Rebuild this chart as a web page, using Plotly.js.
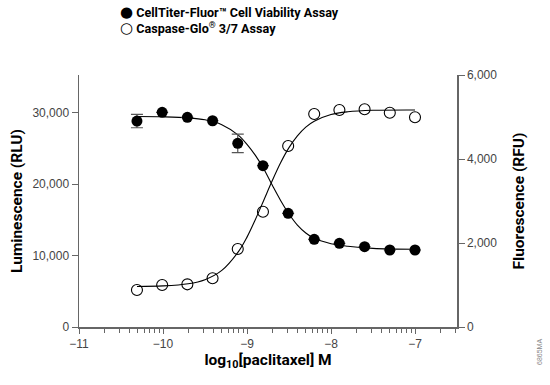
<!DOCTYPE html>
<html>
<head>
<meta charset="utf-8">
<script src="https://cdn.plot.ly/plotly-3.0.1.min.js"></script>
<style>html,body{margin:0;padding:0;background:#fff;}#chart{width:550px;height:385px;}</style>
</head>
<body>
<div id="chart"></div>
<script>
// ---- data ----
const logConc = [-10.31, -10.01, -9.71, -9.41, -9.11, -8.81, -8.51, -8.2, -7.9, -7.6, -7.3, -7.0];
const viabilityRLU = [28800, 30030, 29330, 28850, 25690, 22560, 15900, 12270, 11700, 11230, 10770, 10770];
const viabilityErr = [930, null, null, null, 1290, null, null, null, null, null, null, null];
const caspaseRFU = [880, 1000, 1016, 1160, 1857, 2745, 4310, 5071, 5167, 5183, 5100, 4993];

// fitted curves
const fitX = [-10.31, -10.0, -9.7, -9.5, -9.3, -9.1, -9.0, -8.9, -8.8, -8.7, -8.6, -8.5, -8.4, -8.3, -8.2, -8.0, -7.8, -7.5, -7.0];
const fitViability = [29440, 29400, 29260, 28980, 28300, 26800, 25550, 24000, 22100, 19850, 17700, 15800, 14250, 13150, 12400, 11650, 11300, 11000, 10870];
const fitCaspase = [965, 978, 1030, 1127, 1347, 1800, 2140, 2560, 3020, 3480, 3910, 4270, 4550, 4760, 4900, 5060, 5125, 5160, 5168];

const xTickVals = [-11, -10, -9, -8, -7];
const yLeftTicks = [0, 10000, 20000, 30000];
const yRightTicks = [0, 2000, 4000, 6000];
const seriesNames = ['CellTiter-Fluor™ Cell Viability Assay', 'Caspase-Glo<sup>®</sup> 3/7 Assay'];

// minor (log) ticks inside each decade
const minorTicks = [];
for (const d of [-11, -10, -9, -8, -7]) {
  for (let k = 2; k <= 9; k++) {
    const v = d + Math.log10(k);
    if (v < -6.5) minorTicks.push(v);
  }
}

const tickFont = {family: 'Liberation Sans, Arial, sans-serif', size: 12, color: '#444'};
const boldFam = 'Roboto, "Noto Sans", sans-serif';
const titleFont = {family: boldFam, size: 15.5, color: '#000', weight: 'bold'};
const legendFont = {family: boldFam, size: 12.6, color: '#000', weight: 'bold'};
const axisCol = '#666';

const traces = [
  {x: fitX, y: fitViability, mode: 'lines', line: {color: '#000', width: 1.1, shape: 'spline', smoothing: 1}, showlegend: false, hoverinfo: 'skip', xaxis: 'x', yaxis: 'y'},
  {x: fitX, y: fitCaspase, mode: 'lines', line: {color: '#000', width: 1.1, shape: 'spline', smoothing: 1}, showlegend: false, hoverinfo: 'skip', xaxis: 'x', yaxis: 'y2'},
  {x: logConc, y: viabilityRLU, name: seriesNames[0], mode: 'markers',
   marker: {symbol: 'circle', size: 11, color: '#000'},
   error_y: {type: 'data', array: viabilityErr, visible: true, color: '#555', thickness: 1.2, width: 6},
   showlegend: false, xaxis: 'x', yaxis: 'y'},
  {x: logConc, y: caspaseRFU, name: seriesNames[1], mode: 'markers',
   marker: {symbol: 'circle-open', size: 11, color: '#000', line: {width: 1.1, color: '#000'}},
   showlegend: false, xaxis: 'x', yaxis: 'y2'}
];

const glyph = s => '<span style="font-family:DejaVu Sans;font-size:15px">' + s + '</span>';
const legendText = glyph('●') + ' ' + seriesNames[0] + '<br>' + glyph('○') + ' ' + seriesNames[1];

const layout = {
  width: 550, height: 385,
  margin: {l: 79, r: 93, t: 75, b: 58, pad: 0},
  paper_bgcolor: '#fff', plot_bgcolor: '#fff',
  showlegend: false,
  xaxis: {
    range: [-11, -6.5], tickmode: 'array', tickvals: xTickVals,
    ticks: 'outside', ticklen: 5, tickwidth: 1, tickcolor: axisCol,
    showline: true, linecolor: axisCol, linewidth: 1.5,
    showgrid: false, zeroline: false, tickfont: tickFont,
    minor: {tickmode: 'array', tickvals: minorTicks, ticks: 'outside', ticklen: 4, tickwidth: 1, tickcolor: axisCol, showgrid: false},
    title: {text: 'log<sub>10</sub>[paclitaxel] M', font: titleFont, standoff: 4}
  },
  yaxis: {
    range: [0, 35250], tickmode: 'array', tickvals: yLeftTicks, tickformat: ',d',
    ticks: 'outside', ticklen: 6, tickwidth: 1, tickcolor: axisCol,
    showline: true, linecolor: axisCol, linewidth: 1.5,
    showgrid: false, zeroline: false, tickfont: tickFont,
    title: {text: 'Luminescence (RLU)', font: titleFont, standoff: 6}
  },
  yaxis2: {
    overlaying: 'y', side: 'right', anchor: 'x',
    range: [0, 6000], tickmode: 'array', tickvals: yRightTicks, tickformat: ',d',
    ticks: 'outside', ticklen: 6, tickwidth: 1, tickcolor: axisCol,
    showline: true, linecolor: axisCol, linewidth: 1.5,
    showgrid: false, zeroline: false, tickfont: tickFont,
    title: {text: 'Fluorescence (RFU)', font: titleFont, standoff: 17}
  },
  annotations: [
    {xref: 'paper', yref: 'paper', x: 0.1019, y: 1.2183, text: legendText, align: 'left', showarrow: false, xanchor: 'left', yanchor: 'middle', font: legendFont},
    {xref: 'paper', yref: 'paper', x: 1.2196, y: -0.099, text: '6865MA', textangle: -90, showarrow: false, xanchor: 'center', yanchor: 'middle', font: {family: 'Liberation Sans, Arial, sans-serif', size: 7, color: '#888'}}
  ]
};

Plotly.newPlot('chart', traces, layout, {staticPlot: true, displayModeBar: false});
</script>
</body>
</html>
